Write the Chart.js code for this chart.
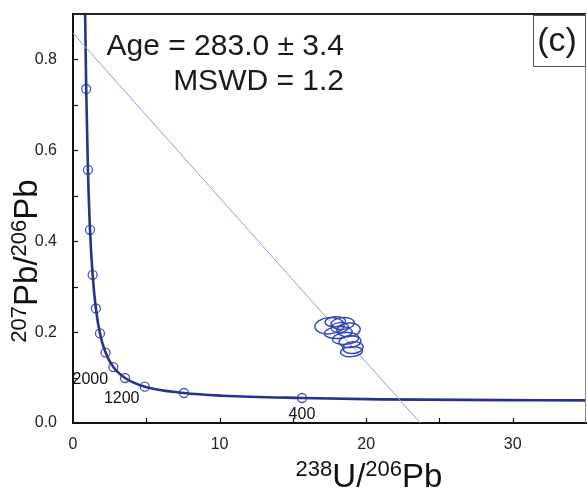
<!DOCTYPE html>
<html>
<head>
<meta charset="utf-8">
<script src="https://cdn.jsdelivr.net/npm/chart.js@4/dist/chart.umd.min.js"></script>
<style>
  html, body { margin: 0; padding: 0; background: #fff; }
  #c { display: block; }
</style>
</head>
<body>
<canvas id="c" width="587" height="491"></canvas>
<script>
// concordia markers (238U/206Pb, 207Pb/206Pb), every 400 Ma
const markerAges = [4800, 4400, 4000, 3600, 3200, 2800, 2400, 2000, 1600, 1200, 800, 400];
const markerX = [0.90, 1.02, 1.16, 1.34, 1.56, 1.84, 2.22, 2.75, 3.55, 4.89, 7.57, 15.62];
const markerY = [0.735, 0.557, 0.425, 0.326, 0.252, 0.197, 0.155, 0.123, 0.099, 0.080, 0.066, 0.055];

// concordia curve trace
const curveX = [0.80, 0.90, 1.02, 1.16, 1.34, 1.56, 1.84, 2.22, 2.75, 3.55, 4.89, 7.57, 10.25, 15.62, 21.0, 31.7, 35.3];
const curveY = [0.97, 0.735, 0.557, 0.425, 0.326, 0.252, 0.197, 0.155, 0.123, 0.099, 0.080, 0.066, 0.060, 0.055, 0.052, 0.050, 0.0497];

// discordia (regression line)
const lineX = [0, 23.7];
const lineY = [0.858, 0];

// analysis error ellipses: centre and half-axes
const ellX  = [17.5, 18.4, 18.1, 18.8, 18.6, 18.9, 19.1, 19.0, 18.2, 17.9];
const ellY  = [0.214, 0.219, 0.199, 0.205, 0.186, 0.179, 0.166, 0.157, 0.210, 0.223];
const ellEX = [1.0, 0.8, 0.95, 0.8, 0.9, 0.75, 0.7, 0.75, 0.6, 0.7];
const ellEY = [0.018, 0.013, 0.013, 0.015, 0.013, 0.013, 0.013, 0.011, 0.011, 0.011];

// labelled ages
const ageLabels = [2000, 1200, 400];

const FONT = '"Liberation Sans", Arial, sans-serif';

const pts = (xs, ys) => xs.map((x, i) => ({ x: x, y: ys[i] }));

const decor = {
  id: "decor",
  afterDatasetsDraw(chart) {
    const { ctx, chartArea: a, scales: { x, y } } = chart;
    ctx.save();
    ctx.beginPath();
    ctx.rect(a.left, a.top, a.right - a.left, a.bottom - a.top);
    ctx.clip();
    ctx.strokeStyle = "#3347b0";
    ctx.lineWidth = 1.4;
    for (let i = 0; i < ellX.length; i++) {
      const cx = x.getPixelForValue(ellX[i]);
      const cy = y.getPixelForValue(ellY[i]);
      const rx = Math.abs(x.getPixelForValue(ellX[i] + ellEX[i]) - cx);
      const ry = Math.abs(y.getPixelForValue(ellY[i] + ellEY[i]) - cy);
      ctx.beginPath();
      ctx.ellipse(cx, cy, rx, ry, -0.08, 0, Math.PI * 2);
      ctx.stroke();
    }
    ctx.restore();
  },
  afterDraw(chart) {
    const { ctx, chartArea: a, scales: { x, y } } = chart;
    ctx.save();
    // frame top / right
    ctx.strokeStyle = "#222";
    ctx.lineWidth = 2;
    ctx.beginPath();
    ctx.moveTo(a.left, a.top);
    ctx.lineTo(a.right, a.top);
    ctx.stroke();
    ctx.strokeStyle = "#888";
    ctx.lineWidth = 1;
    ctx.beginPath();
    ctx.moveTo(a.right - 0.5, a.top);
    ctx.lineTo(a.right - 0.5, a.bottom);
    ctx.stroke();

    // inward ticks
    ctx.strokeStyle = "#111";
    ctx.lineWidth = 1.2;
    y.ticks.forEach(t => {
      if (t.value <= 0 || t.value >= 0.9) return;
      const py = Math.round(y.getPixelForValue(t.value)) + 0.5;
      ctx.beginPath();
      ctx.moveTo(a.left, py);
      ctx.lineTo(a.left + 5, py);
      ctx.stroke();
    });
    x.ticks.forEach(t => {
      if (t.value <= 0 || t.value >= 35) return;
      const px = Math.round(x.getPixelForValue(t.value)) + 0.5;
      ctx.beginPath();
      ctx.moveTo(px, a.bottom);
      ctx.lineTo(px, a.bottom - 5);
      ctx.stroke();
    });

    // age labels on concordia
    ctx.fillStyle = "#111";
    ctx.font = "16px " + FONT;
    ctx.textAlign = "center";
    ctx.textBaseline = "middle";
    const offs = [[-23, 12], [-23, 12], [0, 17]];
    ageLabels.forEach((age, k) => {
      const i = markerAges.indexOf(age);
      ctx.fillText(String(age), x.getPixelForValue(markerX[i]) + offs[k][0], y.getPixelForValue(markerY[i]) + offs[k][1]);
    });

    // result text
    ctx.fillStyle = "#1a1a1a";
    ctx.font = "30px " + FONT;
    ctx.textAlign = "right";
    ctx.textBaseline = "alphabetic";
    ctx.fillText("Age = 283.0 \u00b1 3.4", 344, 55);
    ctx.fillText("MSWD = 1.2", 344, 90);

    // panel letter
    ctx.strokeStyle = "#555";
    ctx.lineWidth = 1;
    ctx.strokeRect(533.5, 15.5, 52, 51);
    ctx.font = "34px " + FONT;
    ctx.textAlign = "center";
    ctx.textBaseline = "middle";
    ctx.fillText("(c)", 557, 42);

    // axis titles with superscripts
    const drawIso = (parts, cx, cy) => {
      let w = 0;
      parts.forEach(p => { ctx.font = (p[1] ? "22px " : "33px ") + FONT; w += ctx.measureText(p[0]).width; });
      let xx = cx - w / 2;
      ctx.textAlign = "left";
      ctx.textBaseline = "alphabetic";
      parts.forEach(p => {
        ctx.font = (p[1] ? "22px " : "33px ") + FONT;
        ctx.fillText(p[0], xx, p[1] ? cy - 11 : cy);
        xx += ctx.measureText(p[0]).width;
      });
    };
    ctx.fillStyle = "#111";
    drawIso([["238", 1], ["U/", 0], ["206", 1], ["Pb", 0]], 369, 487);
    ctx.save();
    ctx.translate(37, 261);
    ctx.rotate(-Math.PI / 2);
    drawIso([["207", 1], ["Pb/", 0], ["206", 1], ["Pb", 0]], 0, 0);
    ctx.restore();
    ctx.restore();
  }
};

new Chart(document.getElementById("c"), {
  type: "scatter",
  data: {
    datasets: [
      {
        type: "line",
        data: pts(lineX, lineY),
        borderColor: "#8fa0d6",
        borderWidth: 1,
        pointRadius: 0,
        fill: false
      },
      {
        type: "line",
        data: pts(curveX, curveY),
        borderColor: "#27338a",
        borderWidth: 2.6,
        pointRadius: 0,
        cubicInterpolationMode: "monotone",
        fill: false
      },
      {
        data: pts(markerX, markerY),
        backgroundColor: "#ffffff",
        borderColor: "#4a5aa6",
        borderWidth: 1.3,
        pointRadius: 4.5,
        clip: false
      }
    ]
  },
  options: {
    responsive: false,
    animation: false,
    layout: { autoPadding: false, padding: { top: 14, right: 1, left: 0, bottom: 0 } },
    plugins: { legend: { display: false }, tooltip: { enabled: false } },
    scales: {
      x: {
        type: "linear",
        min: 0,
        max: 35,
        grid: { display: false, drawTicks: false },
        border: { display: true, color: "#111", width: 2 },
        ticks: {
          stepSize: 5,
          padding: 12,
          color: "#222",
          font: { family: FONT, size: 16 },
          maxRotation: 0,
          callback: v => (v % 10 === 0 ? String(v) : "")
        },
        afterFit: s => { s.height = 68; s.paddingLeft = 0; s.paddingRight = 0; }
      },
      y: {
        type: "linear",
        min: 0,
        max: 0.9,
        grid: { display: false, drawTicks: false },
        border: { display: true, color: "#111", width: 2 },
        ticks: {
          stepSize: 0.1,
          padding: 16,
          color: "#222",
          font: { family: FONT, size: 16 },
          callback: v => (Math.round(v * 10) % 2 === 0 ? v.toFixed(1) : "")
        },
        afterFit: s => { s.width = 73; s.paddingTop = 0; s.paddingBottom = 0; }
      }
    }
  },
  plugins: [decor]
});
</script>
</body>
</html>
